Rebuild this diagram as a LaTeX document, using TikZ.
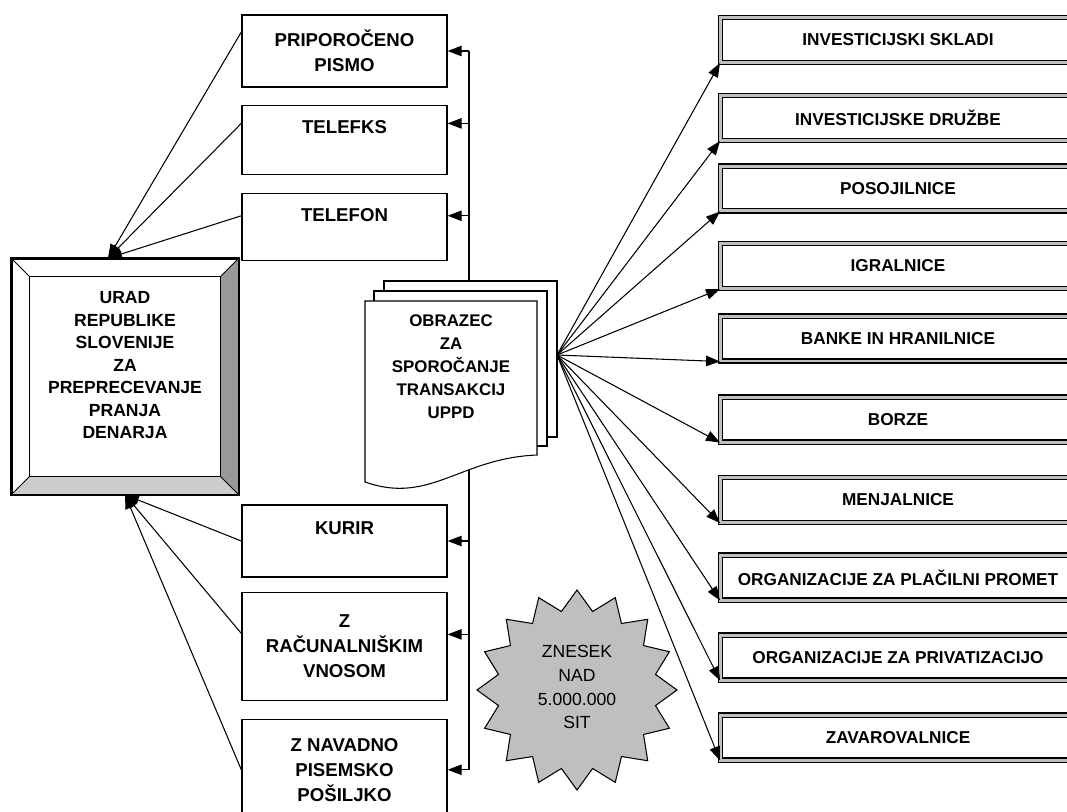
\documentclass[tikz,border=0pt]{standalone}
\usepackage{fontspec}
\setmainfont{Liberation Sans}
\usetikzlibrary{arrows.meta, positioning}

\begin{document}
\begin{tikzpicture}[
    x=0.02cm, y=-0.02cm,
    node distance=0.34cm,
    >={Triangle[length=0.28cm,width=0.21cm]},
    way/.style={draw, line width=0.8pt, minimum width=4.1cm, align=center,
        font=\fontsize{10.6}{14.2}\selectfont\bfseries},
    inst/.style={draw, line width=0.6pt, double=black!25, double distance=0.06cm,
        minimum width=7.1cm, minimum height=0.9cm,
        font=\fontsize{9.8}{12}\selectfont\bfseries},
    link/.style={->, line width=0.6pt}
  ]
  \useasboundingbox (0,0) rectangle (1067,811);
  \clip (0,0) rectangle (1067,811);

  % office with bevelled frame
  \node[draw, line width=0.9pt, minimum width=4.52cm, minimum height=4.7cm, align=center,
        font=\fontsize{10}{12.8}\selectfont\bfseries] (office) at (125,376.5)
        {URAD\\REPUBLIKE\\SLOVENIJE\\ZA\\PREPRECEVANJE\\PRANJA\\DENARJA\\\mbox{}};
  \fill[black!40] (office.north east) -- ([shift={(-0.37cm,-0.37cm)}]office.north east)
        -- ([shift={(-0.37cm,0.37cm)}]office.south east) -- (office.south east) -- cycle;
  \fill[black!20] (office.south west) -- ([shift={(0.37cm,0.37cm)}]office.south west)
        -- ([shift={(-0.37cm,0.37cm)}]office.south east) -- (office.south east) -- cycle;
  \draw[line width=0.6pt] ([shift={(0.37cm,-0.37cm)}]office.north west) rectangle ([shift={(-0.37cm,0.37cm)}]office.south east);
  \draw[line width=0.5pt] (office.north west) -- ([shift={(0.37cm,-0.37cm)}]office.north west);
  \draw[line width=0.5pt] (office.north east) -- ([shift={(-0.37cm,-0.37cm)}]office.north east);
  \draw[line width=0.5pt] (office.south west) -- ([shift={(0.37cm,0.37cm)}]office.south west);
  \draw[line width=0.5pt] (office.south east) -- ([shift={(-0.37cm,0.37cm)}]office.south east);
  \draw[line width=0.9pt] (office.north west) rectangle (office.south east);

  % ways of reporting
  \node[way, minimum height=1.44cm] (mail) at (344.5,51) {PRIPOROČENO\\PISMO};
  \node[way, minimum height=1.38cm, below=0.34cm of mail] (fax) {TELEFKS\\\mbox{}};
  \node[way, minimum height=1.34cm, below=0.36cm of fax] (phone) {TELEFON\\\mbox{}};
  \node[way, minimum height=1.44cm] (courier) at (344.5,541) {KURIR\\\mbox{}};
  \node[way, minimum height=2.16cm, below=0.28cm of courier] (computer) {Z\\RAČUNALNIŠKIM\\VNOSOM};
  \node[way, minimum height=2cm, below=0.36cm of computer] (post) {Z NAVADNO\\PISEMSKO\\POŠILJKO};

  \coordinate (bus) at (469,0);
  \coordinate (mailin) at (mail.east);
  \coordinate (faxin) at ([yshift=0.33cm]fax.east);
  \coordinate (phonein) at ([yshift=0.23cm]phone.east);
  \coordinate (courierin) at (courier.east);
  \coordinate (computerin) at ([yshift=0.24cm]computer.east);
  \coordinate (postin) at (post.east);

  \draw[line width=0.6pt] (bus |- mailin) -- (bus |- postin);
  \draw[link] (bus |- mailin) -- (mailin);
  \draw[link] (bus |- faxin) -- (faxin);
  \draw[link] (bus |- phonein) -- (phonein);
  \draw[link] (bus |- courierin) -- (courierin);
  \draw[link] (bus |- computerin) -- (computerin);
  \draw[link] (bus |- postin) -- (postin);

  \coordinate (officetop) at ([xshift=-0.34cm]office.north);
  \draw[link] ([yshift=0.38cm]mail.west) -- (officetop);
  \draw[link] ([yshift=0.33cm]fax.west) -- (officetop);
  \draw[link] ([yshift=0.23cm]phone.west) -- (officetop);
  \draw[link] (courier.west) -- (office.south);
  \draw[link] ([yshift=0.26cm]computer.west) -- (office.south);
  \draw[link] (post.west) -- (office.south);

  % stacked form
  \draw[fill=white, line width=0.6pt] (384,281) rectangle (557,437);
  \draw[fill=white, line width=0.6pt] (374,291) rectangle (547,446);
  \draw[fill=white, line width=0.6pt] (365,301) -- (537,301) -- (537,455)
        .. controls (460,458) and (430,505) .. (365,482) -- cycle;
  \node[align=center, font=\fontsize{9.6}{13.1}\selectfont\bfseries] (form) at (451,366.5)
        {OBRAZEC\\ZA\\SPOROČANJE\\TRANSAKCIJ\\UPPD};
  \coordinate (hub) at (557,355);

  % obliged institutions
  \node[inst] (funds) at (898,40) {INVESTICIJSKI SKLADI};
  \node[inst] (firms) at (898,118) {INVESTICIJSKE DRUŽBE};
  \node[inst] (loans) at (898,188.5) {POSOJILNICE};
  \node[inst] (casinos) at (898,266) {IGRALNICE};
  \node[inst] (banks) at (898,338.5) {BANKE IN HRANILNICE};
  \node[inst] (stock) at (898,419.5) {BORZE};
  \node[inst] (exchange) at (898,500) {MENJALNICE};
  \node[inst] (payments) at (898,577.5) {ORGANIZACIJE ZA PLAČILNI PROMET};
  \node[inst] (privat) at (898,657.5) {ORGANIZACIJE ZA PRIVATIZACIJO};
  \node[inst] (insure) at (898,737.5) {ZAVAROVALNICE};

  \draw[link] (hub) -- (funds.south west);
  \draw[link] (hub) -- (firms.south west);
  \draw[link] (hub) -- (loans.south west);
  \draw[link] (hub) -- (casinos.south west);
  \draw[link] (hub) -- (banks.south west);
  \draw[link] (hub) -- (stock.south west);
  \draw[link] (hub) -- (exchange.south west);
  \draw[link] (hub) -- (payments.south west);
  \draw[link] (hub) -- (privat.south west);
  \draw[link] (hub) -- (insure.south west);

  % amount burst
  \draw[fill=black!25, line width=0.6pt] (677,690)
    \foreach \a in {0,22.5,...,337.5}{
      -- ({577+80*cos(\a+11.25)},{690-80*sin(\a+11.25)})
      -- ({577+100*cos(\a+22.5)},{690-100*sin(\a+22.5)})
    } -- cycle;
  \node[align=center, font=\fontsize{10}{13.6}\selectfont] (amount) at (577,687)
        {ZNESEK\\NAD\\5.000.000\\SIT};
\end{tikzpicture}
\end{document}
